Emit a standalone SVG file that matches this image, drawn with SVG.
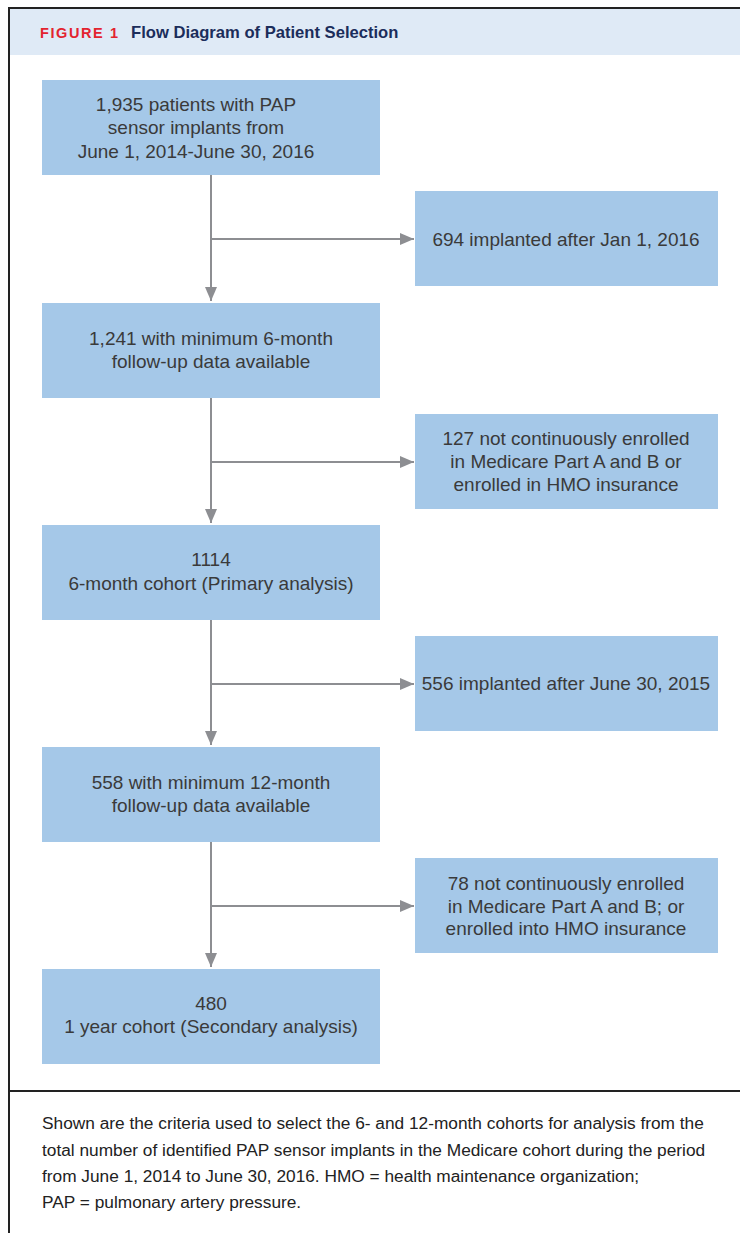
<svg xmlns="http://www.w3.org/2000/svg" width="740" height="1233" viewBox="0 0 740 1233">
<defs>
<marker id="ah" viewBox="0 0 14 12" refX="14" refY="6" markerWidth="14" markerHeight="12" markerUnits="userSpaceOnUse" orient="auto">
<path d="M0,0 L14,6 L0,12 z" fill="#8d8e92"/>
</marker>
<style>
.box{fill:#a5c8e8}
.t{font-family:"Liberation Sans",Arial,sans-serif;font-size:19px;fill:#3a3a3a;text-anchor:middle}
.cap{font-family:"Liberation Sans",Arial,sans-serif;font-size:17.3px;fill:#222}
.ln{stroke:#8d8e92;stroke-width:2;fill:none}
.bd{stroke:#222;stroke-width:2;fill:none}
</style>
</defs>
<rect x="0" y="0" width="740" height="1233" fill="#fff"/>
<rect x="9" y="8" width="731" height="47" fill="#dfeaf6"/>
<path class="bd" d="M9,1233 V8 H740 M9,1091 H740"/>
<text x="40" y="38" font-family="Liberation Sans,Arial,sans-serif" font-weight="bold" font-size="14.5" fill="#e3232f" letter-spacing="1.6">FIGURE 1</text>
<text x="131" y="38" font-family="Liberation Sans,Arial,sans-serif" font-weight="bold" font-size="16.6" fill="#1b2d5b">Flow Diagram of Patient Selection</text>

<g id="connectors">
<path class="ln" d="M211,175 V301" marker-end="url(#ah)"/>
<path class="ln" d="M211,239 H414" marker-end="url(#ah)"/>
<path class="ln" d="M211,398 V523" marker-end="url(#ah)"/>
<path class="ln" d="M211,462 H414" marker-end="url(#ah)"/>
<path class="ln" d="M211,620 V745" marker-end="url(#ah)"/>
<path class="ln" d="M211,684 H414" marker-end="url(#ah)"/>
<path class="ln" d="M211,842 V967" marker-end="url(#ah)"/>
<path class="ln" d="M211,906 H414" marker-end="url(#ah)"/>
</g>

<g id="n1"><rect class="box" x="42" y="80" width="338" height="95"/>
<text class="t" x="196" y="111">1,935 patients with PAP</text>
<text class="t" x="196" y="134">sensor implants from</text>
<text class="t" x="196" y="158">June 1, 2014-June 30, 2016</text></g>

<g id="e1"><rect class="box" x="415" y="191" width="303" height="95"/>
<text class="t" x="566" y="246">694 implanted after Jan 1, 2016</text></g>

<g id="n2"><rect class="box" x="42" y="303" width="338" height="95"/>
<text class="t" x="211" y="345">1,241 with minimum 6-month</text>
<text class="t" x="211" y="368">follow-up data available</text></g>

<g id="e2"><rect class="box" x="415" y="414" width="303" height="95"/>
<text class="t" x="566" y="445">127 not continuously enrolled</text>
<text class="t" x="566" y="468">in Medicare Part A and B or</text>
<text class="t" x="566" y="491">enrolled in HMO insurance</text></g>

<g id="n3"><rect class="box" x="42" y="525" width="338" height="95"/>
<text class="t" x="211" y="566">1114</text>
<text class="t" x="211" y="590">6-month cohort (Primary analysis)</text></g>

<g id="e3"><rect class="box" x="415" y="636" width="303" height="95"/>
<text class="t" x="566" y="690">556 implanted after June 30, 2015</text></g>

<g id="n4"><rect class="box" x="42" y="747" width="338" height="95"/>
<text class="t" x="211" y="789">558 with minimum 12-month</text>
<text class="t" x="211" y="812">follow-up data available</text></g>

<g id="e4"><rect class="box" x="415" y="858" width="303" height="95"/>
<text class="t" x="566" y="890">78 not continuously enrolled</text>
<text class="t" x="566" y="913">in Medicare Part A and B; or</text>
<text class="t" x="566" y="935">enrolled into HMO insurance</text></g>

<g id="n5"><rect class="box" x="42" y="969" width="338" height="95"/>
<text class="t" x="211" y="1010">480</text>
<text class="t" x="211" y="1033">1 year cohort (Secondary analysis)</text></g>

<g id="caption">
<text class="cap" x="42" y="1129">Shown are the criteria used to select the 6- and 12-month cohorts for analysis from the</text>
<text class="cap" x="42" y="1156">total number of identified PAP sensor implants in the Medicare cohort during the period</text>
<text class="cap" x="42" y="1182">from June 1, 2014 to June 30, 2016. HMO = health maintenance organization;</text>
<text class="cap" x="42" y="1208">PAP = pulmonary artery pressure.</text>
</g>
</svg>
